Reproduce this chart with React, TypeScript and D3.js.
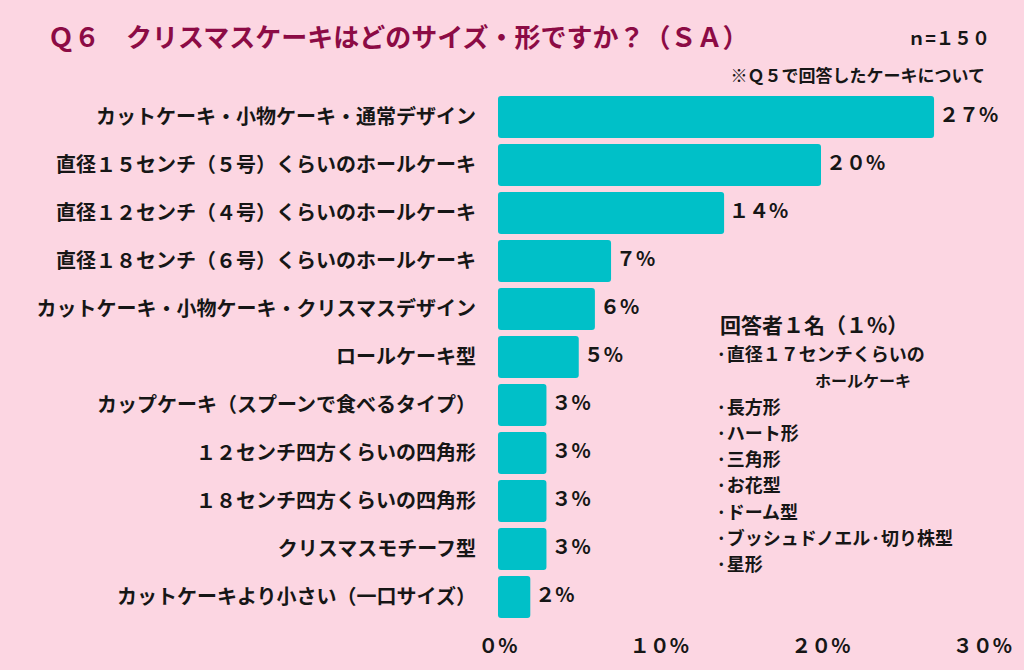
import React from "react";
import * as d3 from "d3";

const categories = [
  "カットケーキ・小物ケーキ・通常デザイン",
  "直径１５センチ（５号）くらいのホールケーキ",
  "直径１２センチ（４号）くらいのホールケーキ",
  "直径１８センチ（６号）くらいのホールケーキ",
  "カットケーキ・小物ケーキ・クリスマスデザイン",
  "ロールケーキ型",
  "カップケーキ（スプーンで食べるタイプ）",
  "１２センチ四方くらいの四角形",
  "１８センチ四方くらいの四角形",
  "クリスマスモチーフ型",
  "カットケーキより小さい（一口サイズ）",
];
const values = [27, 20, 14, 7, 6, 5, 3, 3, 3, 3, 2];
const axisTicks = [0, 10, 20, 30];
const titleText = "Ｑ６　クリスマスケーキはどのサイズ・形ですか？（ＳＡ）";
const sampleText = "ｎ=１５０";
const noteText = "※Ｑ５で回答したケーキについて";
const otherHeader = "回答者１名（１%）";
const otherItems = [
  "·直径１７センチくらいの",
  "ホールケーキ",
  "·長方形",
  "·ハート形",
  "·三角形",
  "·お花型",
  "·ドーム型",
  "·ブッシュドノエル·切り株型",
  "·星形",
];

const W = 1024;
const H = 670;
const BG = "#fcd6e2";
const BAR = "#00c0c8";
const TITLE = "#8c0b45";
const INK = "#161616";
const FONT = "'Noto Sans CJK JP', 'Noto Sans', sans-serif";

const fw = (s: string) => s.replace(/[0-9]/g, (c) => String.fromCharCode(c.charCodeAt(0) + 0xfee0));

export default function App() {
  const x = d3.scaleLinear().domain([0, 30]).range([498, 982.5]);
  const y = d3.scaleBand<string>().domain(categories).range([93, 621]).paddingInner(0.125).paddingOuter(0.0625);

  return (
    <div style={{ position: "fixed", left: 0, top: 0, width: W, height: H, overflow: "hidden", background: BG }}>
      <svg width={W} height={H} style={{ display: "block" }} fontFamily={FONT}>
        <rect x={0} y={0} width={W} height={H} fill={BG} />
        <text x={48} y={47} fontSize={26} fontWeight={700} fill={TITLE}>{titleText}</text>
        <text x={990} y={45} fontSize={18} fontWeight={700} fill={INK} textAnchor="end">{sampleText}</text>
        <text x={985} y={82} fontSize={17} fontWeight={700} fill={INK} textAnchor="end">{noteText}</text>

        {categories.map((c, i) => {
          const by = y(c)!;
          const bh = y.bandwidth();
          return (
            <g key={c}>
              <rect x={x(0)} y={by} width={x(values[i]) - x(0)} height={bh} rx={3} fill={BAR} />
              <text x={476} y={by + bh / 2} dy="0.35em" fontSize={20} fontWeight={700} fill={INK} textAnchor="end">{c}</text>
              <text x={x(values[i]) + 5} y={by + bh / 2 - 2} dy="0.35em" fontSize={20} fontWeight={700} fill={INK}>{fw(String(values[i])) + "%"}</text>
            </g>
          );
        })}

        {axisTicks.map((t) => (
          <text key={t} x={x(t)} y={646} dy="0.35em" fontSize={20} fontWeight={700} fill={INK} textAnchor="middle">{fw(String(t)) + "%"}</text>
        ))}

        <text x={720} y={326} dy="0.35em" fontSize={21} fontWeight={700} fill={INK}>{otherHeader}</text>
        {otherItems.map((t, i) => {
          const indent = i === 1;
          return (
            <text key={t} x={indent ? 815 : 716} y={355 + i * 26.2} dy="0.35em" fontSize={indent ? 16 : 18} fontWeight={700} fill={INK}>{t}</text>
          );
        })}
      </svg>
    </div>
  );
}
